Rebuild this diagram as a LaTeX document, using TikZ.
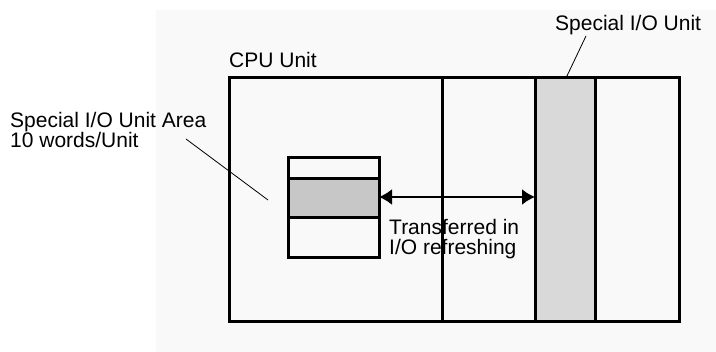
\documentclass[tikz,border=0pt]{standalone}
\usepackage{fontspec}
\setmainfont{Liberation Sans}
\usepackage{tikz}
\usepackage{xcolor}
\usetikzlibrary{arrows.meta}

\definecolor{areagray}{gray}{0.78}
\definecolor{slotgray}{gray}{0.85}
\definecolor{pagegray}{gray}{0.975}

\tikzset{
  unitline/.style={line width=3pt},
  leader/.style={line width=0.8pt},
  xfer/.style={{Latex[length=13pt,width=16pt]}-{Latex[length=13pt,width=16pt]}, line width=2pt},
  label/.style={anchor=base west, inner sep=0pt, align=left}
}

\begin{document}
\begin{tikzpicture}[x=1pt, y=-1pt, font=\fontsize{21}{20}\selectfont]
	\useasboundingbox (0,0) rectangle (716,352);
	% page background
	\fill[pagegray] (156,10) rectangle (716,352);
	
	% CPU Unit rack
	\draw[unitline] (229,78) rectangle (679,322);
	\draw[unitline] (442,78) -- (442,322);
	\node[label] (cpu) at (229,68) {CPU Unit};
	
	% Special I/O Unit slot
	\draw[unitline, fill=slotgray] (535,78) rectangle (595,322);
	\coordinate (slot) at (535,197);
	\coordinate (slottop) at (566,78);
	\node[label] (slotlabel) at (555,31) {Special I/O Unit};
	\coordinate (slotlead) at (586,36);
	\draw[leader] (slotlead) -- (slottop);
	
	% Special I/O Unit Area (10 words)
	\draw[unitline] (288,158) rectangle (379,179);
	\draw[unitline, fill=areagray] (288,179) rectangle (379,218);
	\draw[unitline] (288,218) rectangle (379,258);
	\coordinate (area) at (379,197);
	\node[label] (arealabel) at (10,148) {Special I/O Unit Area\\10 words/Unit};
	\coordinate (arealead) at (186,139);
	\coordinate (areatip) at (268,200);
	\draw[leader] (arealead) -- (areatip);
	
	% transfer
	\draw[xfer] (area) -- (slot);
	\node[label] (xferlabel) at (389,255) {Transferred in\\I/O refreshing};
\end{tikzpicture}
\end{document}
